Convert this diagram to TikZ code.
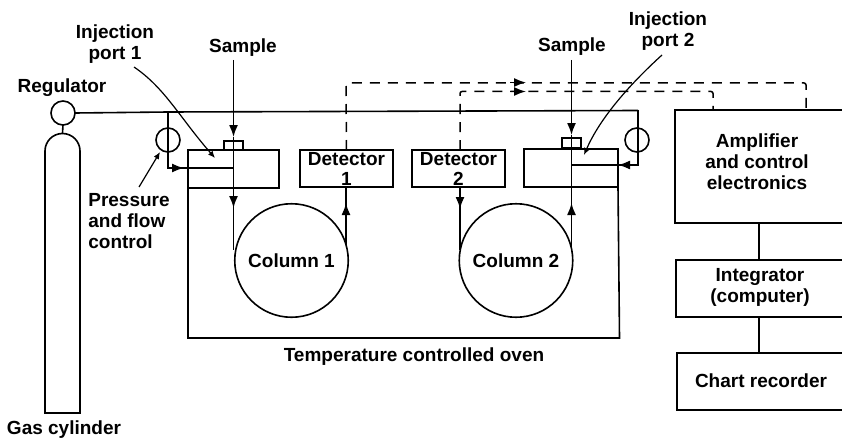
\documentclass[tikz,border=0pt]{standalone}
\usepackage{fontspec}
\setmainfont{Liberation Sans}
\usetikzlibrary{arrows.meta}
\tikzset{
  lab/.style={font=\fontsize{19}{21}\selectfont\bfseries,inner sep=0pt,align=center},
  boxn/.style={draw,rectangle,inner sep=0pt,outer sep=0pt},
  ring/.style={draw,circle,inner sep=0pt,outer sep=0pt,minimum size=24pt},
  col/.style={draw,circle,inner sep=0pt,outer sep=0pt,minimum size=113.5pt,font=\fontsize{19}{21}\selectfont\bfseries},
  tip/.style={-{Latex[length=12pt,width=9pt]}},
  thin leader/.style={line width=1.2pt,-{Latex[length=7pt,width=6pt]}},
  dsh/.style={dash pattern=on 10pt off 8pt,line width=1.5pt,rounded corners=2pt},
}
\begin{document}
\begin{tikzpicture}[x=1pt,y=-1pt,line width=1.6pt]
\clip (0,0) rectangle (842,441);
% Labels
\node[lab] (linj1) at (115,44.5) {Injection\\port 1};
\node[lab] (ssamp1) at (243,48) {Sample};
\node[lab] (sreg) at (62,88) {Regulator};
\node[lab,align=left] (lpress) at (129,221) {Pressure\\and flow\\control};
\node[lab] (lgas) at (64,430) {Gas cylinder};
\node[lab] (lsamp2) at (572,47) {Sample};
\node[lab] (linj2) at (668,31.5) {Injection\\port 2};
\node[lab] (loven) at (414,357) {Temperature controlled oven};
% Oven and boxes
\node[boxn,minimum width=91pt,minimum height=38pt] (port1) at (233.5,169) {};
\node[boxn,minimum width=19pt,minimum height=9pt] (cap1) at (233.5,145.5) {};
\node[boxn,minimum width=94pt,minimum height=38pt] (port2) at (571,168) {};
\node[boxn,minimum width=19pt,minimum height=10pt] (cap2) at (571.5,143) {};
\node[boxn,lab,draw,minimum width=93pt,minimum height=37pt] (det1) at (346.5,168.5) {\fontsize{19}{18}\selectfont Detector\\[-1pt]1};
\node[boxn,lab,draw,minimum width=93pt,minimum height=37pt] (det2) at (458.5,168.5) {\fontsize{19}{18}\selectfont Detector\\[-1pt]2};
\coordinate (ovenl) at (port1.south west);
\coordinate (ovenr) at (port2.south east);
\coordinate (ovenbl) at (188,338);
\coordinate (ovenbr) at (619.5,338);
\draw (ovenl) -- (ovenbl) -- (ovenbr) -- (ovenr);
% Columns
\node[col] (col1) at (291.5,260.5) {Column 1};
\node[col] (col2) at (516,260.5) {Column 2};
% Gas supply
\node[ring] (reg) at (63,113) {};
\coordinate (cyltop) at (62.5,133);
\draw (45,413) -- (45,151) arc[start angle=180,end angle=360,radius=17.5] -- (80,413) -- cycle;
\draw (reg.south) -- (cyltop);
\coordinate (mainR) at (638,110.5);
\coordinate (branchL) at (168,112);
\draw (reg.east) -- (branchL) -- (mainR);
% Flow controls
\node[ring] (fc1) at (168,140) {};
\node[ring] (fc2) at (637,140) {};
\coordinate (inA) at (233.5,168);
\coordinate (inB) at (571.5,165);
\coordinate (corA) at (168,168);
\coordinate (corB) at (638,165);
\coordinate (midA) at (184,168);
\coordinate (midB) at (618,165);
\draw (branchL) -- (corA) -- (inA);
\draw[tip] (corA) -- (midA);
\draw (mainR) -- (corB) -- (inB);
\draw[tip] (corB) -- (midB);
% Sample lines and column flow
\coordinate (s1a) at (233.5,137);
\coordinate (s1b) at (233.5,208);
\coordinate (s1c) at (233.5,250);
\coordinate (s2a) at (571.5,135);
\coordinate (s2b) at (571.5,203);
\coordinate (s2c) at (571.5,250);
\draw[tip] (233.5,60) -- (s1a);
\draw (s1a) -- (s1c);
\draw[tip] (inA) -- (s1b);
\draw[tip] (571.5,60) -- (s2a);
\draw (s2a) -- (s2c);
\draw[tip] (s2c) -- (s2b);
\coordinate (d1c) at (346,245);
\coordinate (d1b) at (346,203);
\coordinate (d2c) at (460,250);
\coordinate (d2b) at (460,209);
\draw (d1c) -- (det1.south -| d1c);
\draw[tip] (d1c) -- (d1b);
\draw (det2.south -| d2c) -- (d2c);
\draw[tip] (det2.south -| d2c) -- (d2b);
% Electronics
\node[boxn,minimum width=180pt,minimum height=113pt] (amp) at (765,166.5) {};
\node[boxn,minimum width=180pt,minimum height=57pt] (integ) at (766,288.5) {};
\node[boxn,minimum width=180pt,minimum height=57pt] (chart) at (767,381.5) {};
\node[lab] (tamp) at (757,162) {Amplifier\\and control\\electronics};
\node[lab] (tint) at (760,287.5) {Integrator\\(computer)};
\node[lab] (tch) at (761,381) {Chart recorder};
\coordinate (a1) at (759,223);
\coordinate (a2) at (759,260);
\coordinate (a3) at (759,317);
\coordinate (a4) at (759,353);
\draw (a1) -- (a2);
\draw (a3) -- (a4);
% Signal lines
\coordinate (sigA) at (806,110);
\coordinate (sigB) at (713,110);
\draw[dsh] (det1.north) -- (346,83) -- (806,83) -- (sigA);
\draw[dsh] (det2.north -| d2c) -- (460,91.5) -- (713,91.5) -- (sigB);
\coordinate (ta) at (526,82.5);
\coordinate (tb) at (526,91.5);
\draw[tip] (510,82.5) -- (ta);
\draw[tip] (510,91.5) -- (tb);
% Leaders
\coordinate (lp1) at (215,158);
\coordinate (lp2) at (584,155);
\coordinate (lfc) at (160,152);
\draw[thin leader] (134,67) .. controls (165,88) and (180,118) .. (lp1);
\draw[thin leader] (662,55) .. controls (630,84) and (600,118) .. (lp2);
\draw[thin leader] (139,187) -- (lfc);
\end{tikzpicture}
\end{document}
